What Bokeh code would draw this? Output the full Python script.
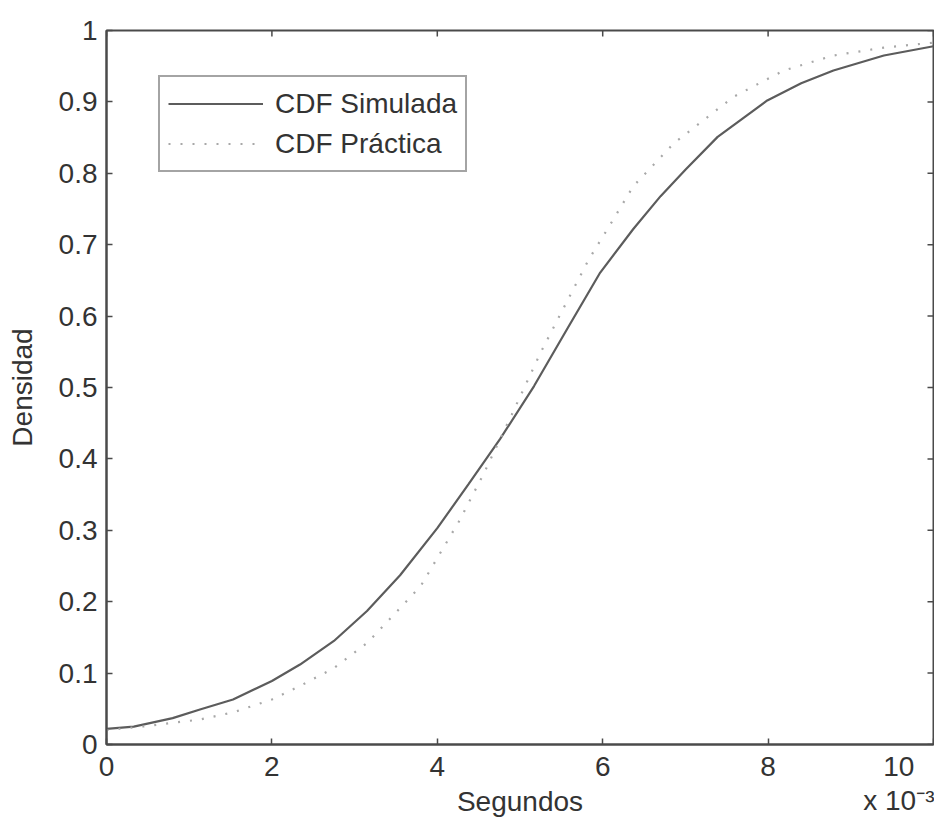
import math
from bokeh.plotting import figure
from bokeh.models import Range1d, FixedTicker, Legend, LegendItem
from bokeh.embed import file_html
from bokeh.resources import INLINE

# ---- data (time in units of 1e-3 s) ----
t_sim = [0.0, 0.33, 0.8, 1.13, 1.53, 2.0, 2.34, 2.75, 3.15, 3.55, 4.0, 4.38, 4.76,
         5.17, 5.57, 5.97, 6.37, 6.7, 7.0, 7.39, 7.99, 8.4, 8.79, 9.4, 10.0]
cdf_sim = [0.022, 0.025, 0.037, 0.049, 0.063, 0.089, 0.112, 0.145, 0.187, 0.237, 0.303, 0.365, 0.428,
           0.502, 0.582, 0.661, 0.722, 0.768, 0.805, 0.851, 0.902, 0.926, 0.944, 0.965, 0.978]

t_pr = [0.0, 0.5, 1.13, 1.53, 2.0, 2.34, 2.75, 3.15, 3.55, 3.8, 4.26, 4.56, 4.9, 5.25,
        5.53, 5.83, 6.09, 6.37, 6.86, 7.58, 8.19, 8.79, 9.4, 10.0]
cdf_pr = [0.02, 0.026, 0.035, 0.045, 0.063, 0.082, 0.107, 0.142, 0.191, 0.222, 0.312, 0.379, 0.462, 0.549,
          0.612, 0.679, 0.728, 0.782, 0.842, 0.907, 0.944, 0.965, 0.976, 0.983]

x_min, x_max = 0, 10
y_min, y_max = 0, 1
xtick_vals = [0, 2, 4, 6, 8, 10]
xtick_labels = ["0", "2", "4", "6", "8", "10\nx 10\u207b\u00b3"]
ytick_vals = [0, 0.1, 0.2, 0.3, 0.4, 0.5, 0.6, 0.7, 0.8, 0.9, 1]
ytick_labels = ["0", "0.1", "0.2", "0.3", "0.4", "0.5", "0.6", "0.7", "0.8", "0.9", "1"]

series_names = ["CDF Simulada", "CDF Práctica"]
x_label = "Segundos"
y_label = "Densidad"

FONT = "Liberation Sans"
FS = "28px"
TXT = "#333333"
AX = "#4a4a4a"

p = figure(width=934, height=819, output_backend="svg", toolbar_location=None,
           x_range=Range1d(x_min, x_max), y_range=Range1d(y_min, y_max),
           min_border_left=106, min_border_right=1, min_border_top=30, min_border_bottom=70)
p.background_fill_color = "white"
p.border_fill_color = "white"
p.grid.visible = False
p.outline_line_color = AX
p.outline_line_width = 2

r1 = p.line(t_sim, cdf_sim, line_color="#5c5c5c", line_width=2.2)
r2 = p.line(t_pr, cdf_pr, line_color="#a8a8a8", line_width=2.2, line_dash="2 10")

xa = p.xaxis[0]
ya = p.yaxis[0]
for ax in (xa, ya):
    ax.major_tick_in = 6
    ax.major_tick_out = 0
    ax.minor_tick_line_color = None
    ax.axis_line_color = AX
    ax.axis_line_width = 2
    ax.major_tick_line_color = AX
    ax.major_tick_line_width = 1.5
    ax.major_label_text_font = FONT
    ax.major_label_text_font_size = FS
    ax.major_label_text_color = TXT
    ax.axis_label_text_font = FONT
    ax.axis_label_text_font_size = FS
    ax.axis_label_text_font_style = "normal"
    ax.axis_label_text_color = TXT

xa.ticker = FixedTicker(ticks=xtick_vals)
xa.major_label_overrides = dict(zip(xtick_vals, xtick_labels))
xa.major_label_text_align = "right"
xa.major_label_text_line_height = 1.1
xa.major_label_standoff = 6
xa.axis_label = x_label
xa.axis_label_standoff_mode = "axis"
xa.axis_label_standoff = 41

ya.ticker = FixedTicker(ticks=ytick_vals)
ya.major_label_overrides = dict(zip(ytick_vals, ytick_labels))
ya.major_label_standoff = 9
ya.axis_label = y_label
ya.axis_label_standoff = 18

# inward ticks on the top and right sides of the box
p.ray(x=xtick_vals, y=[y_max] * len(xtick_vals), length=6, length_units="screen",
      angle=-math.pi / 2, line_color=AX, line_width=1.5)
p.ray(x=[x_max] * len(ytick_vals), y=ytick_vals, length=6, length_units="screen",
      angle=math.pi, line_color=AX, line_width=1.5)

legend = Legend(items=[LegendItem(label=series_names[0], renderers=[r1]),
                       LegendItem(label=series_names[1], renderers=[r2])],
                location=(52, 572), orientation="vertical")
legend.label_text_font = FONT
legend.label_text_font_size = FS
legend.label_text_color = TXT
legend.glyph_width = 95
legend.glyph_height = 37
legend.label_height = 37
legend.label_standoff = 12
legend.spacing = 3
legend.padding = 8
legend.margin = 0
legend.border_line_color = AX
legend.border_line_width = 2
legend.background_fill_color = "white"
legend.background_fill_alpha = 1
p.add_layout(legend, "center")

open("out.html", "w").write(file_html(p, INLINE))
